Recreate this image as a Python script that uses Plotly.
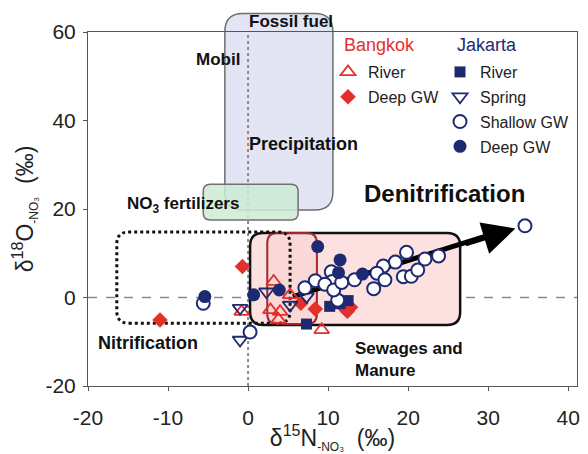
import plotly.graph_objects as go

# ---------------- data ----------------
bkk_river_x = [3.2, 2.8, 4.0, 3.8, 5.25, 9.2, -0.8]
bkk_river_y = [3.6, -2.8, -3.2, -5.0, 0.6, -7.3, -3.2]

bkk_deep_x = [-0.7, -11.0, 6.6, 8.4, 12.1, 12.8, 12.4]
bkk_deep_y = [7.0, -5.1, -1.3, -2.6, -2.5, -2.2, -3.1]

jkt_river_x = [7.3, 10.2, 12.5, 11.5]
jkt_river_y = [-6.0, -2.0, -0.7, -1.4]

jkt_spring_x = [-1.0, -1.0, 2.3, 5.25, 7.3]
jkt_spring_y = [-2.4, -9.6, 1.3, -1.7, 0.2]

jkt_shallow_x = [34.6, 19.8, 23.8, 22.1, 18.4, 16.9, 16.1, 13.3, 17.1, 19.4, 20.4,
                 21.2, 15.7, 10.4, 10.5, 8.4, 7.1, 9.6, 11.2, 10.7, 11.7, -5.6, 0.25]
jkt_shallow_y = [16.2, 10.2, 9.4, 8.7, 8.0, 7.1, 5.5, 4.0, 4.0, 4.7, 4.8,
                 6.2, 2.0, 5.8, 3.6, 3.8, 2.2, 3.0, -0.6, 1.7, 3.4, -1.3, -7.8]

jkt_deep_x = [-5.4, 0.7, 3.9, 8.7, 11.5, 11.3, 14.3]
jkt_deep_y = [0.2, 0.6, 1.7, 11.5, 8.5, 5.6, 5.3]

x_ticks = [-20, -10, 0, 10, 20, 30, 40]
x_ticktext = ["-20", "-10", "0", "10", "20", "30", "40"]
y_ticks = [-20, 0, 20, 40, 60]
y_ticktext = ["-20", "0", "20", "40", "60"]

# ---------------- style / layout ----------------
RED = "#e4302a"
NAVY = "#1d2a72"
FONT = "Liberation Sans, Arial, sans-serif"
XR = [-20, 41.1]
YR = [-20, 60]
OFF = 8                       # page body margin in the browser
W, H = 588 - OFF, 454 - OFF   # figure size
ML, MR, MT, MB = 80, 11, 24, 68
PW, PH = W - ML - MR, H - MT - MB
PXX = PW / (XR[1] - XR[0])
PXY = PH / (YR[1] - YR[0])


def px_x(page_x):
    return (page_x - OFF - ML) / PW


def px_y(page_y):
    return (H - MB - (page_y - OFF)) / PH


def rrect(x0, x1, y0, y1, r, paper=False):
    if paper:
        rx, ry = r / PW, r / PH
        x0, x1 = (x0 - XR[0]) / (XR[1] - XR[0]), (x1 - XR[0]) / (XR[1] - XR[0])
        y0, y1 = (y0 - YR[0]) / (YR[1] - YR[0]), (y1 - YR[0]) / (YR[1] - YR[0])
    else:
        rx, ry = r / PXX, r / PXY
    return (f"M {x0+rx},{y0} L {x1-rx},{y0} Q {x1},{y0} {x1},{y0+ry} "
            f"L {x1},{y1-ry} Q {x1},{y1} {x1-rx},{y1} L {x0+rx},{y1} "
            f"Q {x0},{y1} {x0},{y1-ry} L {x0},{y0+ry} Q {x0},{y0} {x0+rx},{y0} Z")


fig = go.Figure()

def add(name, xs, ys, symbol, color, size, legend, fill=None, lw=1.5):
    fig.add_trace(go.Scatter(
        x=xs, y=ys, mode="markers", name=name, legend=legend, legendgroup=name + legend,
        marker=dict(symbol=symbol, size=size, color=fill if fill else color,
                    line=dict(color=color, width=lw)),
        cliponaxis=False))

add("River", bkk_river_x, bkk_river_y, "triangle-up-open", RED, 13, "legend", lw=1.8)
add("Deep GW", bkk_deep_x, bkk_deep_y, "diamond", RED, 12, "legend", lw=0)
add("River", jkt_river_x, jkt_river_y, "square", NAVY, 11, "legend2", lw=0)
add("Spring", jkt_spring_x, jkt_spring_y, "triangle-down-open", NAVY, 13, "legend2", lw=1.8)
add("Shallow GW", jkt_shallow_x, jkt_shallow_y, "circle", NAVY, 13, "legend2", fill="white", lw=2)
add("Deep GW", jkt_deep_x, jkt_deep_y, "circle", NAVY, 13, "legend2", lw=0)

shapes = [
    dict(type="path", xref="paper", yref="paper", layer="below",
         path=rrect(-2.9, 10.6, 19.8, 64.2, 18, paper=True),
         fillcolor="#e3e5f5", line=dict(color="#6e6e6e", width=1.5)),
    dict(type="path", xref="x", yref="y", layer="below",
         path=rrect(-5.6, 6.25, 17.5, 25.6, 7),
         fillcolor="rgba(205,235,212,0.85)", line=dict(color="#707070", width=1.5)),
    dict(type="path", xref="x", yref="y", layer="below",
         path=rrect(0.25, 26.5, -6.2, 14.6, 13),
         fillcolor="#fde1e0", line=dict(color="#111111", width=2.5)),
    dict(type="path", xref="x", yref="y", layer="below",
         path=rrect(2.4, 8.6, -6.0, 14.6, 10),
         fillcolor="rgba(245,190,190,0.25)", line=dict(color="#a3282b", width=2)),
    dict(type="path", xref="x", yref="y", layer="below",
         path=rrect(-16.4, 5.25, -5.8, 14.8, 12),
         line=dict(color="#111111", width=3, dash="dot")),
    dict(type="line", xref="paper", yref="y", x0=0, x1=1, y0=0, y1=0, layer="below",
         line=dict(color="#8a8a8a", width=1.5, dash="dash")),
    dict(type="line", xref="x", yref="paper", x0=0, x1=0, y0=0, y1=1, layer="below",
         line=dict(color="#8a8a8a", width=2, dash="dot")),
    dict(type="line", xref="x", yref="y", x0=5.6, y0=0.2, x1=31.0, y1=14.6, layer="below",
         line=dict(color="black", width=5)),
]

def lab(text, x, y, size=18, bold=True, xanchor="center", yref="y", color="#111"):
    return dict(text=f"<b>{text}</b>" if bold else text, x=x, y=y, xref="x", yref=yref,
                showarrow=False, xanchor=xanchor, yanchor="middle",
                font=dict(family=FONT, size=size, color=color))

annotations = [
    lab("Fossil fuel", 5.4, px_y(22), yref="paper", size=17),
    lab("Mobil", -3.75, 53.7, size=17),
    lab("Precipitation", 6.9, 34.7),
    lab("NO<sub>3</sub> fertilizers", -8.1, 21.0, size=17),
    lab("Nitrification", -12.5, -10.3),
    lab("Denitrification", 24.6, 23.4, size=24),
    dict(text="<b>Sewages and<br>Manure</b>", x=13.1, y=-14.1, xref="x", yref="y",
         showarrow=False, xanchor="left", yanchor="middle", align="left",
         font=dict(family=FONT, size=17, color="#111")),
    dict(x=33.4, y=15.6, ax=27.0, ay=12.0, xref="x", yref="y", axref="x", ayref="y",
         text="", showarrow=True, arrowhead=2, arrowsize=1.3, arrowwidth=5,
         arrowcolor="black", standoff=0),
    dict(text="Bangkok", x=px_x(342), y=px_y(45), xref="paper", yref="paper",
         showarrow=False, xanchor="left", yanchor="middle",
         font=dict(family=FONT, size=18, color=RED)),
    dict(text="Jakarta", x=px_x(455), y=px_y(45), xref="paper", yref="paper",
         showarrow=False, xanchor="left", yanchor="middle",
         font=dict(family=FONT, size=18, color=NAVY)),
]

legend_common = dict(yanchor="top", xanchor="left", bgcolor="rgba(0,0,0,0)",
                     y=px_y(55),
                     font=dict(family=FONT, size=16, color="#222"),
                     itemwidth=30, traceorder="grouped", tracegroupgap=1)

SUB = "<sub><span style='font-size:12px'>-NO₃</span></sub>"

fig.update_layout(
    width=W, height=H,
    margin=dict(l=ML, r=MR, t=MT, b=MB, autoexpand=False),
    paper_bgcolor="white", plot_bgcolor="white",
    font=dict(family=FONT, size=20, color="#222"),
    shapes=shapes, annotations=annotations,
    legend=dict(x=px_x(328), **legend_common),
    legend2=dict(x=px_x(440), **legend_common),
    xaxis=dict(range=XR, tickvals=x_ticks, ticktext=x_ticktext, showgrid=False, zeroline=False,
               showline=True, mirror=True, linecolor="#555", linewidth=1,
               ticks="outside", ticklen=4, tickcolor="#555", automargin=False,
               ticklabelstandoff=9, tickfont=dict(size=21),
               title=dict(text="δ<sup>15</sup>N" + SUB + "  (‰)", font=dict(size=23), standoff=7)),
    yaxis=dict(range=YR, tickvals=y_ticks, ticktext=y_ticktext, showgrid=False, zeroline=False,
               showline=True, mirror=True, linecolor="#555", linewidth=1,
               ticks="outside", ticklen=4, tickcolor="#555", automargin=False,
               ticklabelstandoff=3, tickfont=dict(size=21),
               title=dict(text="δ<sup>18</sup>O" + SUB + "  (‰)", font=dict(size=23), standoff=5)),
)

fig.write_html("out.html")
